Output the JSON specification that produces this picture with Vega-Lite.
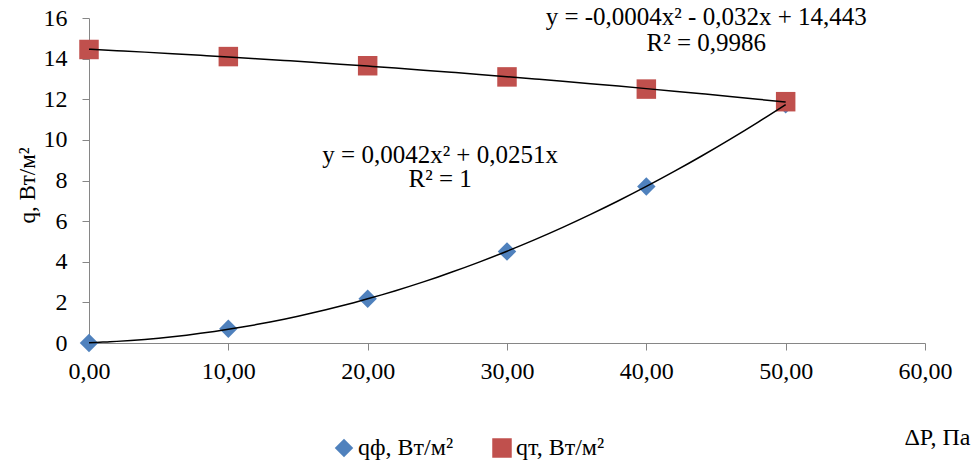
{
  "$schema": "https://vega.github.io/schema/vega-lite/v6.json",
  "autosize": "none",
  "width": 836,
  "height": 325,
  "padding": {"left": 89, "top": 18, "right": 49, "bottom": 126},
  "background": "white",
  "config": {
    "view": {"stroke": null},
    "font": "Liberation Serif",
    "text": {"font": "Liberation Serif"}
  },
  "datasets": {
    "pts": [
      {"dP": 0, "q": 0.0, "series": "qф, Вт/м²"},
      {"dP": 10, "q": 0.70, "series": "qф, Вт/м²"},
      {"dP": 20, "q": 2.18, "series": "qф, Вт/м²"},
      {"dP": 30, "q": 4.50, "series": "qф, Вт/м²"},
      {"dP": 40, "q": 7.70, "series": "qф, Вт/м²"},
      {"dP": 50, "q": 11.75, "series": "qф, Вт/м²"},
      {"dP": 0, "q": 14.45, "series": "qт, Вт/м²"},
      {"dP": 10, "q": 14.10, "series": "qт, Вт/м²"},
      {"dP": 20, "q": 13.65, "series": "qт, Вт/м²"},
      {"dP": 30, "q": 13.10, "series": "qт, Вт/м²"},
      {"dP": 40, "q": 12.50, "series": "qт, Вт/м²"},
      {"dP": 50, "q": 11.88, "series": "qт, Вт/м²"}
    ],
    "notes": [
      {"x": 44.3, "y": 16.05, "label": "y = -0,0004x² - 0,032x + 14,443"},
      {"x": 44.3, "y": 14.75, "label": "R² = 0,9986"},
      {"x": 25.2, "y": 9.26, "label": "y = 0,0042x² + 0,0251x"},
      {"x": 25.2, "y": 8.05, "label": "R² = 1"}
    ]
  },
  "layer": [
    {
      "data": {"name": "pts"},
      "mark": {"type": "point", "filled": true, "opacity": 1},
      "encoding": {
        "x": {
          "field": "dP", "type": "quantitative",
          "scale": {"domain": [0, 60]},
          "axis": {
            "values": [0, 10, 20, 30, 40, 50, 60],
            "labelExpr": "replace(format(datum.value, '.2f'), '.', ',')",
            "labelFlush": false,
            "grid": false, "domainColor": "#868686", "tickColor": "#868686",
            "tickSize": 7, "labelPadding": 9, "labelFontSize": 24, "labelColor": "#000",
            "labelFont": "Liberation Serif",
            "title": "ΔP, Па", "titleFont": "Liberation Serif", "titleFontSize": 24,
            "titleFontWeight": "normal", "titleColor": "#000",
            "titleX": 881, "titleY": 94, "titleAlign": "right", "titleBaseline": "middle"
          }
        },
        "y": {
          "field": "q", "type": "quantitative",
          "scale": {"domain": [0, 16]},
          "axis": {
            "values": [0, 2, 4, 6, 8, 10, 12, 14, 16],
            "grid": false, "domainColor": "#868686", "tickColor": "#868686",
            "tickSize": 7, "labelPadding": 15, "labelFontSize": 24, "labelColor": "#000",
            "labelFont": "Liberation Serif",
            "title": "q, Вт/м²", "titleFont": "Liberation Serif", "titleFontSize": 23,
            "titleFontWeight": "normal", "titleColor": "#000",
            "titleX": -62, "titleY": 167, "titleAngle": -90, "titleAlign": "center", "titleBaseline": "middle"
          }
        },
        "color": {
          "field": "series", "type": "nominal",
          "scale": {"domain": ["qф, Вт/м²", "qт, Вт/м²"], "range": ["#4F81BD", "#C0504D"]},
          "legend": {
            "title": null, "orient": "none", "direction": "horizontal",
            "legendX": 243, "legendY": 418,
            "labelFont": "Liberation Serif", "labelFontSize": 24, "labelColor": "#000",
            "symbolSize": 220, "columnPadding": 36, "labelOffset": 2
          }
        },
        "shape": {
          "field": "series", "type": "nominal",
          "scale": {"domain": ["qф, Вт/м²", "qт, Вт/м²"], "range": ["diamond", "square"]}
        },
        "size": {
          "field": "series", "type": "nominal",
          "scale": {"domain": ["qф, Вт/м²", "qт, Вт/м²"], "range": [340, 380]},
          "legend": null
        }
      }
    },
    {
      "data": {"name": "pts"},
      "transform": [
        {"regression": "q", "on": "dP", "groupby": ["series"], "method": "poly", "order": 2, "extent": [0, 50]}
      ],
      "mark": {"type": "line", "color": "#000", "strokeWidth": 1.5, "interpolate": "monotone"},
      "encoding": {
        "x": {"field": "dP", "type": "quantitative"},
        "y": {"field": "q", "type": "quantitative"},
        "detail": {"field": "series"}
      }
    },
    {
      "data": {"name": "notes"},
      "mark": {"type": "text", "font": "Liberation Serif", "fontSize": 25, "color": "#000", "align": "center", "baseline": "middle"},
      "encoding": {
        "x": {"field": "x", "type": "quantitative"},
        "y": {"field": "y", "type": "quantitative"},
        "text": {"field": "label"}
      }
    }
  ]
}
